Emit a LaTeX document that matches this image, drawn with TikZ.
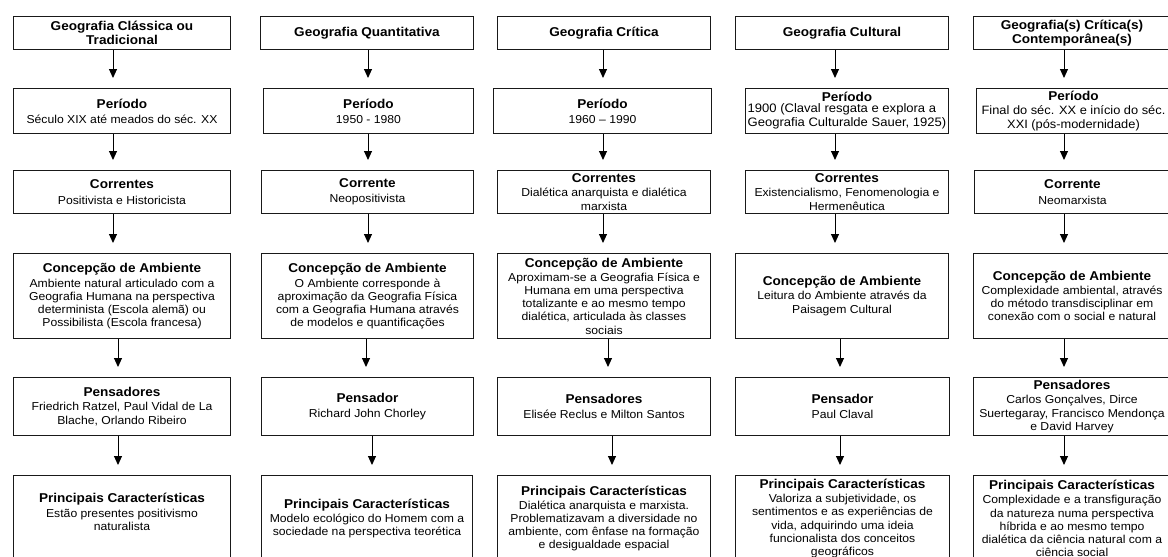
\documentclass[tikz,border=0pt]{standalone}
\usepackage{fontspec}
\setmainfont{Liberation Sans}[FakeStretch=1.06]
\usetikzlibrary{arrows.meta}
\newcommand{\hd}[1]{{\bfseries\fontsize{12.8}{14}\selectfont #1}}
\tikzset{
  box/.style={draw=black!90, line width=1pt, anchor=north west, align=center,
    inner sep=0.5pt, font=\fontsize{11.5}{13.2}\selectfont, text=black},
  arr/.style={line width=1pt, draw=black, -{Triangle[width=8pt,length=9pt]}}
}
\newcommand{\conn}[3]{\draw[arr] (#1.south -| #3,0) -- ([yshift=10pt]#2.north -| #3,0);}
\begin{document}
\begin{tikzpicture}[x=1pt,y=-1pt]
\useasboundingbox (0,0) rectangle (1168,557);
\clip (0,0) rectangle (1168,557);
% ---------- column 1
\node[box, minimum width=217pt, minimum height=33pt] (t1) at (13,16) {\hd{Geografia Clássica ou}\\[1pt]\hd{Tradicional}};
\node[box, minimum width=217pt, minimum height=45pt] (p1) at (13,88) {\hd{Período}\\[2pt]Século XIX até meados do séc. XX};
\node[box, minimum width=217pt, minimum height=43pt] (c1) at (13,170) {\hd{Correntes}\\[2pt]Positivista e Historicista};
\node[box, minimum width=217pt, minimum height=85pt] (a1) at (13,253) {\hd{Concepção de Ambiente}\\[2pt]Ambiente natural articulado com a\\Geografia Humana na perspectiva\\determinista (Escola alemã) ou\\Possibilista (Escola francesa)};
\node[box, minimum width=217pt, minimum height=58pt] (n1) at (13,377) {\hd{Pensadores}\\[1pt]Friedrich Ratzel, Paul Vidal de La\\Blache, Orlando Ribeiro};
\node[box, minimum width=217pt, minimum height=86pt] (k1) at (13,475) {\hd{Principais Características}\\[1pt]Estão presentes positivismo\\naturalista\\\mbox{}};
% ---------- column 2
\node[box, minimum width=213pt, minimum height=33pt] (t2) at (260,16) {\hd{Geografia Quantitativa}};
\node[box, minimum width=210pt, minimum height=45pt] (p2) at (263,88) {\hd{Período}\\[2pt]1950 - 1980};
\node[box, minimum width=212pt, minimum height=43pt] (c2) at (261,170) {\hd{Corrente}\\[2pt]Neopositivista};
\node[box, minimum width=212pt, minimum height=85pt] (a2) at (261,253) {\hd{Concepção de Ambiente}\\[2pt]O Ambiente corresponde à\\aproximação da Geografia Física\\com a Geografia Humana através\\de modelos e quantificações};
\node[box, minimum width=212pt, minimum height=58pt] (n2) at (261,377) {\hd{Pensador}\\[1pt]Richard John Chorley};
\node[box, minimum width=211pt, minimum height=86pt] (k2) at (261,475) {\hd{Principais Características}\\[1pt]Modelo ecológico do Homem com a\\sociedade na perspectiva teorética};
% ---------- column 3
\node[box, minimum width=213pt, minimum height=33pt] (t3) at (497,16) {\hd{Geografia Crítica}};
\node[box, minimum width=218pt, minimum height=45pt] (p3) at (493,88) {\hd{Período}\\[2pt]1960 – 1990};
\node[box, minimum width=213pt, minimum height=43pt] (c3) at (497,170) {\hd{Correntes}\\[1pt]Dialética anarquista e dialética\\marxista};
\node[box, minimum width=213pt, minimum height=85pt] (a3) at (497,253) {\hd{Concepção de Ambiente}\\[1pt]Aproximam-se a Geografia Física e\\Humana em uma perspectiva\\totalizante e ao mesmo tempo\\dialética, articulada às classes\\sociais};
\node[box, minimum width=213pt, minimum height=58pt] (n3) at (497,377) {\hd{Pensadores}\\[1pt]Elisée Reclus e Milton Santos};
\node[box, minimum width=213pt, minimum height=86pt] (k3) at (497,475) {\hd{Principais Características}\\[1pt]Dialética anarquista e marxista.\\Problematizavam a diversidade no\\ambiente, com ênfase na formação\\e desigualdade espacial};
% ---------- column 4
\node[box, minimum width=213pt, minimum height=33pt] (t4) at (735,16) {\hd{Geografia Cultural}};
\node[box, minimum width=203pt, minimum height=45pt] (p4) at (745,88) {\hd{Período}\\[1pt]{\fontsize{12.3}{13.4}\selectfont\begin{tabular}{@{}l@{}}1900 (Claval resgata e explora a\\Geografia Culturalde Sauer, 1925)\end{tabular}}};
\node[box, minimum width=203pt, minimum height=43pt] (c4) at (745,170) {\hd{Correntes}\\[1pt]Existencialismo, Fenomenologia e\\Hermenêutica};
\node[box, minimum width=213pt, minimum height=85pt] (a4) at (735,253) {\hd{Concepção de Ambiente}\\[1pt]Leitura do Ambiente através da\\Paisagem Cultural};
\node[box, minimum width=214pt, minimum height=58pt] (n4) at (735,377) {\hd{Pensador}\\[1pt]Paul Claval};
\node[box, minimum width=214pt, minimum height=86pt] (k4) at (735,475) {\hd{Principais Características}\\[1pt]Valoriza a subjetividade, os\\sentimentos e as experiências de\\vida, adquirindo uma ideia\\funcionalista dos conceitos\\geográficos};
% ---------- column 5
\node[box, minimum width=197pt, minimum height=33pt] (t5) at (973,16) {\hd{Geografia(s) Crítica(s)}\\[1pt]\hd{Contemporânea(s)}};
\node[box, minimum width=194pt, minimum height=45pt] (p5) at (976,88) {\hd{Período}\\[1pt]{\fontsize{12.1}{13.4}\selectfont Final do séc. XX e início do séc.}\\{\fontsize{12.1}{13.4}\selectfont XXI (pós-modernidade)}};
\node[box, minimum width=196pt, minimum height=43pt] (c5) at (974,170) {\hd{Corrente}\\[2pt]Neomarxista};
\node[box, minimum width=197pt, minimum height=85pt] (a5) at (973,253) {\hd{Concepção de Ambiente}\\[1pt]Complexidade ambiental, através\\do método transdisciplinar em\\conexão com o social e natural};
\node[box, minimum width=197pt, minimum height=58pt] (n5) at (973,377) {\hd{Pensadores}\\[1pt]Carlos Gonçalves, Dirce\\Suertegaray, Francisco Mendonça\\e David Harvey};
\node[box, minimum width=197pt, minimum height=86pt] (k5) at (973,475) {\hd{Principais Características}\\[1pt]Complexidade e a transfiguração\\da natureza numa perspectiva\\híbrida e ao mesmo tempo\\dialética da ciência natural com a\\ciência social};
% ---------- arrows
\conn{t1}{p1}{113}\conn{p1}{c1}{113}\conn{c1}{a1}{113}\conn{a1}{n1}{118}\conn{n1}{k1}{118}
\conn{t2}{p2}{368}\conn{p2}{c2}{368}\conn{c2}{a2}{368}\conn{a2}{n2}{366}\conn{n2}{k2}{372}
\conn{t3}{p3}{603}\conn{p3}{c3}{603}\conn{c3}{a3}{603}\conn{a3}{n3}{608}\conn{n3}{k3}{612}
\conn{t4}{p4}{835}\conn{p4}{c4}{835}\conn{c4}{a4}{835}\conn{a4}{n4}{840}\conn{n4}{k4}{840}
\conn{t5}{p5}{1064}\conn{p5}{c5}{1064}\conn{c5}{a5}{1064}\conn{a5}{n5}{1064}\conn{n5}{k5}{1064}
\end{tikzpicture}
\end{document}
